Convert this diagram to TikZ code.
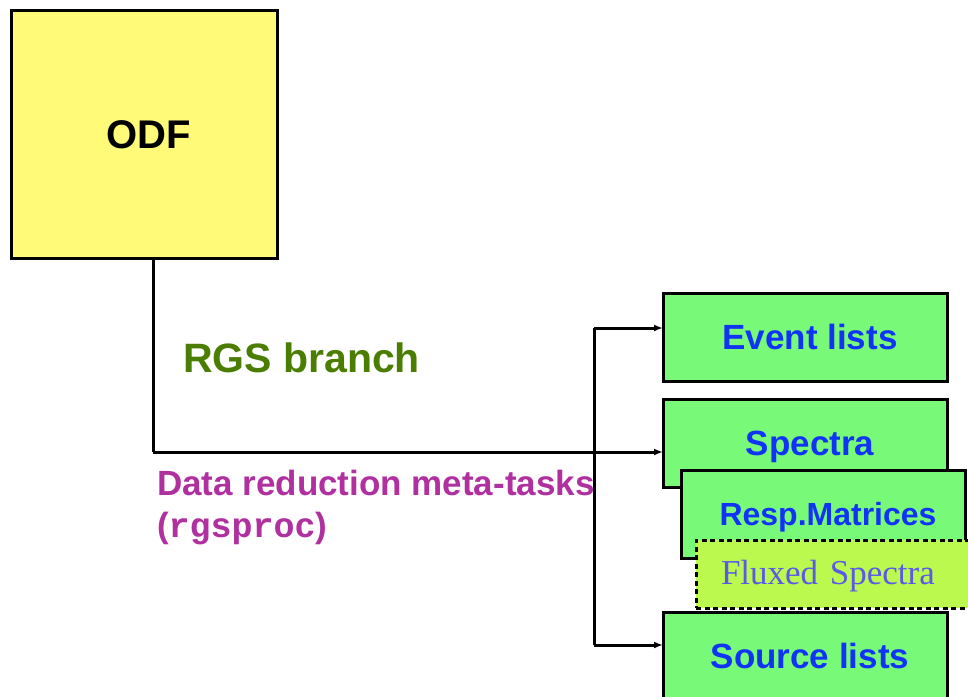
\documentclass[tikz,border=0pt]{standalone}
\usepackage{fontspec}
\setmainfont{Liberation Sans}
\newfontfamily\serifface{Liberation Serif}
\newfontfamily\monoface{Liberation Mono}
\usetikzlibrary{arrows.meta}
\definecolor{odfyellow}{HTML}{FFFA78}
\definecolor{prodgreen}{HTML}{78FA78}
\definecolor{fluxgreen}{HTML}{BBF94F}
\definecolor{prodblue}{HTML}{1033F5}
\definecolor{fluxblue}{HTML}{5A5AE6}
\definecolor{branchgreen}{HTML}{4A7D00}
\definecolor{taskpurple}{HTML}{B030A0}
\tikzset{
  every node/.style={inner sep=0pt, outer sep=0pt},
  odfbox/.style={draw=black, line width=3pt, fill=odfyellow, anchor=north west,
    minimum width=266pt, minimum height=248pt,
    font=\fontsize{40pt}{44pt}\selectfont\bfseries, text height=29pt, text depth=0pt},
  prodbox/.style={draw=black, line width=3pt, fill=prodgreen, anchor=north west,
    minimum width=284pt, minimum height=88pt, text=prodblue,
    font=\fontsize{35pt}{40pt}\selectfont\bfseries, text height=25pt, text depth=0pt},
  fluxbox/.style={draw=black, line width=3pt, dash pattern=on 5pt off 3.5pt,
    fill=fluxgreen, anchor=north west, inner xsep=25pt, text width=240pt, align=left,
    minimum height=68pt, text=fluxblue,
    font=\fontsize{35pt}{40pt}\serifface\selectfont, text height=21pt, text depth=0pt},
  conn/.style={draw=black, line width=3pt},
  arr/.style={conn, -{Latex[length=9pt,width=7pt]}},
}
\begin{document}
\begin{tikzpicture}[x=1pt, y=-1pt]
  \useasboundingbox (0,0) rectangle (968,696);
  \fill[white] (0,0) rectangle (968,696);

  % source data box
  \node[odfbox] (odf) at (11,10) {\hspace*{9pt}ODF};

  % product boxes, back to front
  \node[prodbox] (events) at (663,293) {\hspace*{10pt}Event lists};
  \node[prodbox] (spectra) at (663,399) {\hspace*{10pt}Spectra};
  \node[prodbox, font=\fontsize{32pt}{36pt}\selectfont\bfseries, text height=23pt]
       (resp) at (681,470) {\hspace*{10pt}Resp.Matrices};
  \node[fluxbox] (flux) at (696,540) {Fluxed Spectra};
  \node[prodbox] (sources) at (663,612) {\hspace*{10pt}Source lists};

  % branch labels
  \node[anchor=base west, text=branchgreen,
        font=\fontsize{41pt}{44pt}\selectfont\bfseries] (branch) at (183,372) {RGS branch};
  \node[anchor=base west, text=taskpurple, align=left,
        font=\fontsize{35pt}{42pt}\selectfont\bfseries] (tasks) at (157,537)
        {Data reduction meta-tasks\\({\monoface rgsproc})};

  % connectors
  \coordinate (corner) at (153,452);
  \coordinate (ftop) at (594,328);
  \coordinate (fbot) at (594,645);
  \draw[conn] (odf.south -| corner) -- (corner);
  \draw[arr] (corner) -- (corner -| spectra.west);
  \draw[conn] (ftop) -- (fbot);
  \draw[arr] (ftop) -- (ftop -| events.west);
  \draw[arr] (fbot) -- (fbot -| sources.west);
\end{tikzpicture}
\end{document}
